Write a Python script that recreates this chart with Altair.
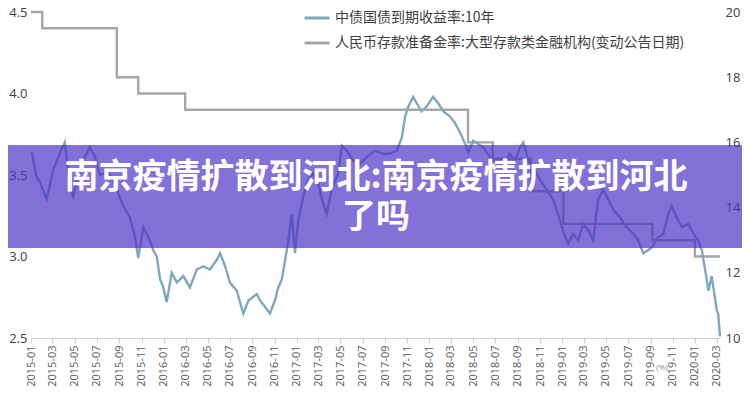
import altair as alt
import pandas as pd

# ---- data ----
yield_dates = [
    "2015-01-03", "2015-01-16", "2015-01-25", "2015-02-13", "2015-03-03", "2015-03-21",
    "2015-04-04", "2015-04-18", "2015-04-27", "2015-05-20", "2015-06-12", "2015-06-26",
    "2015-07-10", "2015-08-01", "2015-08-25", "2015-09-12", "2015-09-30", "2015-10-14",
    "2015-10-23", "2015-11-06", "2015-11-20", "2015-12-03", "2015-12-13", "2015-12-22",
    "2015-12-31", "2016-01-09", "2016-01-23", "2016-02-06", "2016-02-24", "2016-03-13",
    "2016-04-01", "2016-04-19", "2016-05-07", "2016-05-26", "2016-06-04", "2016-06-18",
    "2016-07-01", "2016-07-20", "2016-08-07", "2016-08-21", "2016-09-13", "2016-09-22",
    "2016-10-06", "2016-10-19", "2016-11-02", "2016-11-11", "2016-11-21", "2016-11-30",
    "2016-12-09", "2016-12-18", "2016-12-27", "2017-01-05", "2017-01-19", "2017-02-02",
    "2017-02-15", "2017-03-01", "2017-03-11", "2017-03-24", "2017-04-07", "2017-04-25",
    "2017-05-05", "2017-05-18", "2017-06-05", "2017-06-24", "2017-07-12", "2017-08-04",
    "2017-08-27", "2017-09-14", "2017-10-03", "2017-10-17", "2017-10-26", "2017-11-04",
    "2017-11-17", "2017-11-27", "2017-12-10", "2017-12-24", "2018-01-11", "2018-01-25",
    "2018-02-08", "2018-02-26", "2018-03-12", "2018-03-26", "2018-04-09", "2018-04-18",
    "2018-05-01", "2018-05-15", "2018-05-29", "2018-06-16", "2018-07-05", "2018-07-23",
    "2018-08-10", "2018-08-24", "2018-09-07", "2018-09-16", "2018-09-30", "2018-10-13",
    "2018-11-01", "2018-11-19", "2018-12-07", "2018-12-26", "2019-01-09", "2019-01-18",
    "2019-01-31", "2019-02-14", "2019-02-28", "2019-03-14", "2019-03-27", "2019-04-10",
    "2019-04-24", "2019-05-08", "2019-05-21", "2019-06-09", "2019-06-27", "2019-07-16",
    "2019-07-29", "2019-08-12", "2019-08-26", "2019-09-07", "2019-09-18", "2019-10-06",
    "2019-10-20", "2019-10-29", "2019-11-12", "2019-11-26", "2019-12-14", "2019-12-28",
    "2020-01-10", "2020-01-20", "2020-01-29", "2020-02-07", "2020-02-16", "2020-02-25",
    "2020-03-01", "2020-03-05", "2020-03-10",
]
yield_values = [
    3.64, 3.49, 3.46, 3.35, 3.53, 3.63,
    3.70, 3.43, 3.37, 3.57, 3.67, 3.61,
    3.50, 3.52, 3.41, 3.31, 3.24, 3.12,
    2.99, 3.18, 3.12, 3.04, 3.00, 2.86,
    2.81, 2.72, 2.90, 2.84, 2.88, 2.81,
    2.92, 2.94, 2.92, 2.98, 3.02, 2.94,
    2.84, 2.79, 2.65, 2.73, 2.77, 2.73,
    2.69, 2.65, 2.73, 2.81, 2.86, 2.98,
    3.10, 3.26, 3.02, 3.22, 3.37, 3.47,
    3.51, 3.45, 3.35, 3.26, 3.41, 3.51,
    3.68, 3.65, 3.59, 3.57, 3.61, 3.65,
    3.63, 3.63, 3.65, 3.73, 3.86, 3.92,
    3.98, 3.94, 3.89, 3.92, 3.98, 3.94,
    3.89, 3.86, 3.82, 3.76, 3.69, 3.64,
    3.71, 3.69, 3.67, 3.61, 3.57, 3.57,
    3.63, 3.59, 3.67, 3.70, 3.59, 3.55,
    3.47, 3.41, 3.35, 3.22, 3.12, 3.08,
    3.14, 3.10, 3.20, 3.16, 3.10, 3.35,
    3.41, 3.35, 3.29, 3.24, 3.18, 3.14,
    3.10, 3.02, 3.04, 3.06, 3.11, 3.14,
    3.26, 3.31, 3.24, 3.18, 3.20, 3.14,
    3.10, 3.04, 2.92, 2.79, 2.88, 2.75,
    2.67, 2.65, 2.51,
]

rrr_dates = [
    "2015-01-01", "2015-02-01", "2015-08-25", "2015-10-23", "2016-02-29",
    "2018-04-17", "2018-06-24", "2018-10-07", "2019-01-04", "2019-09-06",
    "2020-01-01", "2020-03-10",
]
rrr_values = [20.0, 19.5, 18.0, 17.5, 17.0, 16.0, 15.5, 14.5, 13.5, 13.0, 12.5, 12.5]

series_names = ["中债国债到期收益率:10年", "人民币存款准备金率:大型存款类金融机构(变动公告日期)"]
series_colors = ["#7fa8bd", "#a6a6a6"]

x_tick_labels = [
    "2015-01", "2015-03", "2015-05", "2015-07", "2015-09", "2015-11",
    "2016-01", "2016-03", "2016-05", "2016-07", "2016-09", "2016-11",
    "2017-01", "2017-03", "2017-05", "2017-07", "2017-09", "2017-11",
    "2018-01", "2018-03", "2018-05", "2018-07", "2018-09", "2018-11",
    "2019-01", "2019-03", "2019-05", "2019-07", "2019-09", "2019-11",
    "2020-01", "2020-03",
]
left_ticks = [2.5, 3.0, 3.5, 4.0, 4.5]
right_ticks = [10, 12, 14, 16, 18, 20]

banner_line1 = "南京疫情扩散到河北:南京疫情扩散到河北"
banner_line2 = "了吗"
unit_text = "(%)"

# ---- build chart ----
df_y = pd.DataFrame({"date": yield_dates, "value": yield_values, "series": series_names[0]})
df_r = pd.DataFrame({"date": rrr_dates, "value": rrr_values, "series": series_names[1]})

tick_values = [alt.DateTime(year=int(s[:4]), month=int(s[5:]), date=1) for s in x_tick_labels]

x_enc = alt.X(
    "date:T",
    title=None,
    scale=alt.Scale(domain=[alt.DateTime(year=2015, month=1, date=1),
                            alt.DateTime(year=2020, month=3, date=10)]),
    axis=alt.Axis(
        values=tick_values, format="%Y-%m", labelAngle=270, labelOverlap=False,
        labelFlush=False, grid=False, domainColor="#d0d0d0", tickColor="#d0d0d0",
        tickSize=5, labelPadding=2, labelFontSize=11, labelColor="#595959",
        labelFont="Open Sans",
    ),
)

color_enc = alt.Color(
    "series:N",
    scale=alt.Scale(domain=series_names, range=series_colors),
    legend=alt.Legend(
        title=None, orient="none", legendX=272, legendY=-8, direction="vertical",
        symbolType="stroke", symbolSize=625, symbolStrokeWidth=3,
        labelFont="Noto Sans CJK SC", labelFontSize=14, labelColor="#404040",
        labelOffset=4, rowPadding=4, padding=0, labelLimit=600,
    ),
)

blue = alt.Chart(df_y).mark_line(strokeWidth=2.4).encode(
    x=x_enc,
    y=alt.Y("value:Q", title=None,
            scale=alt.Scale(domain=[2.5, 4.5], nice=False, zero=False),
            axis=alt.Axis(orient="left", values=left_ticks, format=".1f", domain=False,
                          ticks=False, grid=False, labelPadding=4, labelFontSize=13,
                          labelColor="#404040", labelFont="Open Sans")),
    color=color_enc,
)

gray = alt.Chart(df_r).mark_line(interpolate="step-after", strokeWidth=2.4).encode(
    x=x_enc,
    y=alt.Y("value:Q", title=None,
            scale=alt.Scale(domain=[10, 20], nice=False, zero=False),
            axis=alt.Axis(orient="right", values=right_ticks, format="d", domain=False,
                          ticks=False, grid=False, labelPadding=5, labelFontSize=13,
                          labelColor="#404040", labelFont="Open Sans")),
    color=color_enc,
)

df_b = pd.DataFrame({"t": [banner_line1]})
banner = alt.Chart(df_b).mark_rect(color="#4a2ec6", opacity=0.68).encode(
    x=alt.value(-23), x2=alt.value(711), y=alt.value(133), y2=alt.value(236)
)
text_style = dict(font="Noto Sans CJK SC", fontSize=34, fontWeight="bold", color="white",
                  align="center", baseline="middle")
banner_label1 = alt.Chart(pd.DataFrame({"t": [banner_line1]})).mark_text(**text_style).encode(
    text="t:N", x=alt.value(345), y=alt.value(166))
banner_label2 = alt.Chart(pd.DataFrame({"t": [banner_line2]})).mark_text(**text_style).encode(
    text="t:N", x=alt.value(345), y=alt.value(206))

unit = alt.Chart(pd.DataFrame({"u": [unit_text]})).mark_text(
    font="Open Sans", fontSize=8, color="#808080", align="center", baseline="middle"
).encode(text="u:N", x=alt.value(631), y=alt.value(356))

chart = alt.layer(gray, blue, banner, banner_label1, banner_label2, unit).resolve_scale(
    y="independent"
).properties(
    width=689, height=326,
    autosize=alt.AutoSizeParams(type="none"),
    padding={"left": 23, "top": 4, "right": 22, "bottom": 49},
    background="white",
).configure_view(stroke=None)

chart.save("out.html", embed_options={"renderer": "svg", "actions": False})
